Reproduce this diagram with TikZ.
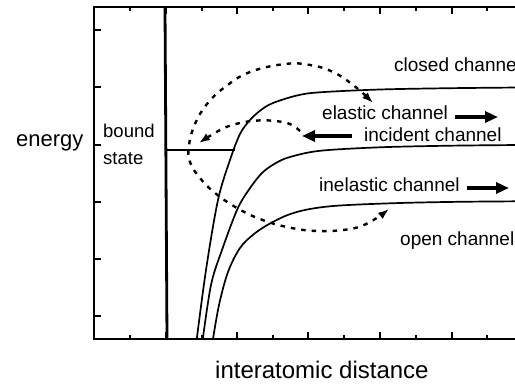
\documentclass[tikz,border=0pt]{standalone}
\usepackage{fontspec}
\setmainfont{Liberation Sans}
\usetikzlibrary{arrows.meta}
\tikzset{
  axisline/.style={line width=2pt},
  tickmark/.style={line width=1.6pt},
  potential/.style={line width=1.7pt},
  dashpath/.style={line width=2.4pt, dash pattern=on 4.5pt off 6pt},
  bigarrow/.style={line width=3.6pt, -{Triangle[length=13pt,width=11pt]}},
  lab/.style={inner sep=0pt, anchor=base west, font=\fontsize{19}{22}\selectfont},
}
\begin{document}
\begin{tikzpicture}[x=1pt,y=-1pt]
\useasboundingbox (0,0) rectangle (515,385);
\fill[white] (0,0) rectangle (515,385);
% axes box
\draw[axisline] (520,7) -- (94,7) -- (94,339) -- (520,339);
% ticks
\foreach \x in {130,202,273,344,416,487} {
  \draw[tickmark] (\x,339) -- (\x,335);
  \draw[tickmark] (\x,7) -- (\x,11);
}
\foreach \x in {166,237,308,380,452} {
  \draw[tickmark] (\x,339) -- (\x,332);
  \draw[tickmark] (\x,7) -- (\x,14);
}
\foreach \y in {30,87,145,202,259,316} {
  \draw[tickmark] (94,\y) -- (101,\y);
}
\begin{scope}
\clip (94,7) rectangle (520,339);
% wall
\draw[line width=2.8pt] (165,7) -- (167,339);
% bound state
\draw[line width=1.2pt] (167,150) -- (235,150);
% potentials
\draw[potential] plot[smooth, tension=0.55] coordinates {(196,345) (206,270) (218,200) (230,160) (240,134) (250,120) (261,110) (273,103) (297,95.5) (320,92.3) (380,89.5) (450,88.2) (520,87.5)};
\draw[potential] plot[smooth, tension=0.55] coordinates {(202,345) (211,285) (222,250) (237,210) (248,191) (262,173) (276,163) (290,157) (320,150.8) (380,147.3) (450,145.7) (520,145)};
\draw[potential] plot[smooth, tension=0.55] coordinates {(212,345) (219,305) (228,272) (240,248) (254,234) (270,223.5) (289,214.5) (310,209) (340,205.5) (400,203) (460,201.8) (520,201.3)};
\end{scope}
% dashed coupling paths
\draw[dashpath, {Latex[length=11pt,width=8pt]}-{Latex[length=11pt,width=8pt]}]
  plot[smooth, tension=0.7] coordinates {(373,103) (353,85) (333,72) (310,65) (285,64) (250,72) (225,87) (207,104) (195,124) (189,145) (190,162) (200,178) (215,193) (237,208) (260,219) (287,227) (317,231) (350,229) (370,222) (389,209)};
\coordinate (bstart) at (300,131);
\draw[dashpath, -{Latex[length=11pt,width=8pt]}]
  plot[smooth, tension=0.7] coordinates {(bstart) (290,124) (275,121) (258,120.5) (240,123) (222,129) (199,143)};
% labels
\node[lab] (closed) at (394,72) {closed channel};
\node[lab] (elastic) at (322,120) {elastic channel};
\node[lab] (incident) at (364,142) {incident channel};
\node[lab] (inelastic) at (319,192) {inelastic channel};
\node[lab] (open) at (400,246) {open channel};
\node[lab, font=\fontsize{18.5}{22}\selectfont] (bound) at (103,138) {bound};
\node[lab, font=\fontsize{18.5}{22}\selectfont] (state) at (103,165) {state};
\node[lab, font=\fontsize{22}{26}\selectfont] (energy) at (16,147) {energy};
\node[lab, font=\fontsize{24}{28}\selectfont] (dist) at (215,378) {interatomic distance};
% thick arrows
\coordinate (ea1) at (455,117); \coordinate (ea2) at (498,117);
\draw[bigarrow] (ea1) -- (ea2);
\coordinate (ia1) at (352,136); \coordinate (ia2) at (302,136);
\draw[bigarrow] (ia1) -- (ia2);
\coordinate (na1) at (467,188); \coordinate (na2) at (509,188);
\draw[bigarrow] (na1) -- (na2);
\end{tikzpicture}
\end{document}
